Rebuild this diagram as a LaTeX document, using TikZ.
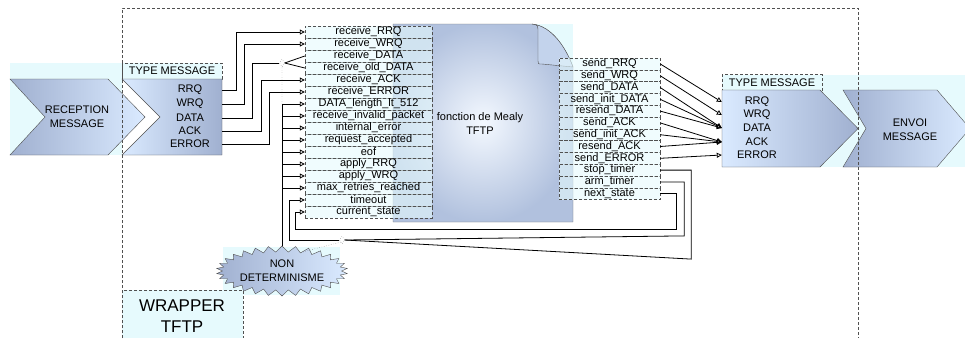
\documentclass[tikz,border=0pt]{standalone}
\usepackage{fontspec}
\setmainfont{Liberation Sans}
\usetikzlibrary{arrows.meta,positioning,shapes.geometric,shapes.symbols}
\definecolor{bgcyan}{RGB}{230,250,253}
\definecolor{bluelt}{RGB}{218,234,255}
\definecolor{bluedk}{RGB}{160,176,208}
\definecolor{framegray}{RGB}{80,80,80}

\begin{document}
\begin{tikzpicture}[x=1pt,y=-1pt,
  font=\fontsize{11}{14}\selectfont,
  frame/.style={draw=framegray,dash pattern=on 3pt off 2pt},
  inrow/.style={frame,fill=bgcyan,fill opacity=0.6,text opacity=1,inner sep=0pt,minimum width=127pt,minimum height=12pt},
  outrow/.style={inrow,minimum width=101pt,minimum height=11.8pt},
  label/.style={frame,fill=bgcyan,inner sep=0pt,minimum width=100pt,minimum height=16pt},
  junct/.style={draw=framegray,dotted,diamond,fill=white,inner sep=0pt,minimum width=5pt,minimum height=8pt},
  arrow/.style={-{Triangle[open,length=5pt,width=5pt]},line width=0.8pt},
  wire/.style={line width=0.8pt}
]
\useasboundingbox (0,0) rectangle (965,338);

% fonds
\fill[bgcyan] (10,63) rectangle (122,155);
\fill[bgcyan] (722,75) rectangle (965,167);
\fill[bgcyan] (393,24) rectangle (573,222);
\fill[bgcyan] (223,247) rectangle (340,295);
\fill[bgcyan] (122,290) rectangle (243,338);

% reception
\shade[draw=framegray,left color=bluedk,right color=bluelt] (10,79) -- (108,79) -- (145,117) -- (108,155) -- (10,155) -- (45,117) -- cycle;
\node[align=center] (recv) at (77,117) {RECEPTION\\MESSAGE};

% type message gauche
\node[label] (llabel) at (172,71) {TYPE MESSAGE};
\shade[draw=framegray,left color=bluelt,right color=bluedk] (122,79) -- (222,79) -- (222,155) -- (122,155) -- (160,117) -- cycle;
\node[inner sep=0pt,minimum width=100pt,minimum height=76pt] (ltype) at (172,117) {};
\foreach \nm/\yy in {RRQ/90,WRQ/104,DATA/118,ACK/131,ERROR/144}
  \node (l\nm) at (190,\yy) {\nm};

% fonction de Mealy
\shade[draw=framegray!80,inner color=bluelt!30!white,outer color=bluedk!70!bluelt] (393,24) -- (532,24) .. controls (552,26) and (566,48) .. (573,67) -- (573,222) -- (393,222) -- cycle;
\filldraw[fill=bluelt!60!bluedk,draw=framegray] (532,24) .. controls (538,25) .. (538,33) -- (538,61) .. controls (538,64) .. (542,64) -- (573,67) .. controls (566,48) and (552,26) .. (532,24);
\node[align=center] (mealy) at (480,124) {fonction de Mealy\\TFTP};

% entrees
\foreach \lbl [count=\i] in {receive\_RRQ,receive\_WRQ,receive\_DATA,receive\_old\_DATA,receive\_ACK,receive\_ERROR,DATA\_length\_lt\_512,receive\_invalid\_packet,internal\_error,request\_accepted,eof,apply\_RRQ,apply\_WRQ,max\_retries\_reached,timeout,current\_state}
  \node[inrow] (in\i) at (368.5,{20+12*\i}) {\lbl};

% sorties
\foreach \lbl [count=\i] in {send\_RRQ,send\_WRQ,send\_DATA,send\_init\_DATA,resend\_DATA,send\_ACK,send\_init\_ACK,resend\_ACK,send\_ERROR,stop\_timer,arm\_timer,next\_state}
  \node[outrow] (out\i) at (609.5,{52.1+11.8*\i}) {\lbl};

% type message droite
\node[label] (rlabel) at (772,82.5) {TYPE MESSAGE};
\shade[draw=framegray,left color=bluelt,right color=bluedk] (722,90) -- (820,90) -- (858,128.5) -- (820,167) -- (722,167) -- cycle;
\node[inner sep=0pt,minimum width=98pt,minimum height=77pt] (rtype) at (771,128.5) {};
\foreach \nm/\yy in {RRQ/102,WRQ/115,DATA/128,ACK/142,ERROR/155}
  \node (r\nm) at (757,\yy) {\nm};

% envoi
\shade[draw=framegray,left color=bluedk,right color=bluelt] (843,90) -- (937,90) -- (970,128.5) -- (937,167) -- (843,167) -- (866,128.5) -- cycle;
\node[align=center] (send) at (910,130) {ENVOI\\MESSAGE};

% non determinisme
\node[junct] (jdata) at (282,63) {};
\node[junct] (jtimer) at (342,240) {};
\node[draw=framegray,starburst,starburst points=30,starburst point height=6pt,random starburst=0,
  left color=bluedk,right color=bluelt,align=center,inner sep=0pt,minimum width=94pt,minimum height=50pt] (nd) at (282,271) {NON\\DETERMINISME};

% liaisons gauche
\draw[arrow] (lRRQ -| ltype.east) -- ++(14,0) |- (in1.west);
\draw[arrow] (lWRQ -| ltype.east) -- ++(22,0) |- (in2.west);
\draw[wire] (lDATA -| ltype.east) -- ++(30,0) |- (jdata.west);
\draw[wire] (jdata.east) -- (in3.west);
\draw[wire] (jdata.east) -- (in4.west);
\draw[arrow] (lACK -| ltype.east) -- ++(39,0) |- (in5.west);
\draw[arrow] (lERROR -| ltype.east) -- ++(47,0) |- (in6.west);
\draw[wire] (nd.north) -- (nd.north |- in7.west);
\foreach \i in {7,...,14}
  \draw[arrow] (nd.north |- in\i.west) -- (in\i.west);
\draw[dotted,framegray] (nd.north |- in7.west) -- (jdata.south);

% liaisons droite
\draw[arrow] (out1.east) -- (rtype.west |- rRRQ);
\draw[arrow] (out2.east) -- (rtype.west |- rWRQ);
\foreach \i in {3,4,5}
  \draw[arrow] (out\i.east) -- (rtype.west |- rDATA);
\foreach \i in {6,7,8}
  \draw[arrow] (out\i.east) -- (rtype.west |- rACK);
\draw[arrow] (out9.east) -- (rtype.west |- rERROR);

% retours
\draw[wire] (out10.east) -- ++(31,0) -- ++(0,89) -- (jtimer.east);
\draw[wire] (out11.east) -- ++(24,0) -- ++(0,54) -- (jtimer.east);
\draw[arrow] (jtimer.west) -| ([xshift=-15pt]in15.west) -- (in15.west);
\draw[arrow] (out12.east) -- ++(16,0) |- (295,229) |- (in16.west);
\draw[dotted,framegray] (jtimer.south west) -- (nd.north east);

% wrapper
\draw[frame] (122,338) -- (122,8) -- (858,8) -- (858,338);
\draw[frame] (122,338) -- (122,290) -- (243,290) -- (243,338);
\node[font=\fontsize{17}{21}\selectfont,align=center] (wrapper) at (182,316.5) {WRAPPER\\TFTP};
\end{tikzpicture}
\end{document}
